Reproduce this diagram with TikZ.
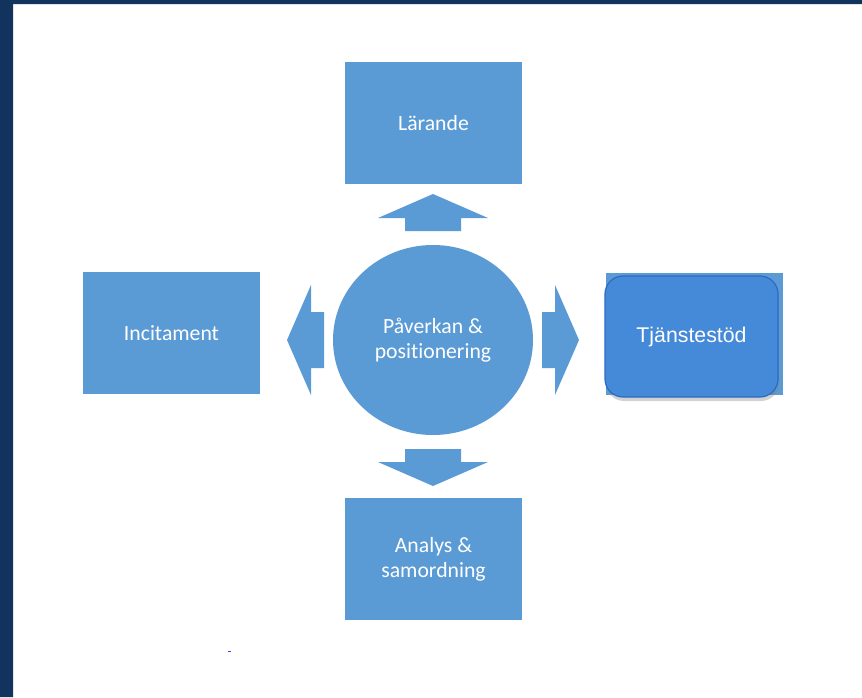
\documentclass[tikz,border=0pt]{standalone}
\usepackage{fontspec}
\setmainfont{Carlito}[Ligatures=NoCommon]
\newfontfamily\arialfont{Liberation Sans}
\usetikzlibrary{shapes.geometric, shadows}
\definecolor{frame}{HTML}{12335E}
\definecolor{boxblue}{HTML}{5B9BD5}
\definecolor{roundblue}{HTML}{448AD8}
\definecolor{roundedge}{HTML}{2E6BC0}
\tikzstyle{block} = [rectangle, minimum width=177pt, minimum height=122pt, align=center, fill=boxblue, text=white, font=\fontsize{21.7}{25}\selectfont]
\tikzstyle{hub} = [ellipse, minimum width=200pt, minimum height=190pt, inner sep=0, fill=boxblue, text=white, align=center, font=\fontsize{21.7}{25}\selectfont]
\tikzstyle{roundbox} = [rectangle, rounded corners=18pt, minimum width=173pt, minimum height=121pt, fill=roundblue, draw=roundedge, line width=1.2pt, text=white, font=\arialfont\fontsize{21.3}{25}\selectfont, drop shadow={shadow xshift=1pt, shadow yshift=-4pt, opacity=.35}]

\begin{document}
\begin{tikzpicture}[x=1pt, y=-1pt]
\useasboundingbox (0,0) rectangle (862,697);
\fill[white] (0,0) rectangle (862,697);
\fill[frame] (0,0) rectangle (13,697) (0,0) rectangle (862,4);

\node[hub] (hub) at (433,340) {P\aa verkan \&\\positionering};

\foreach \a in {0,90,180,270}{
\fill[boxblue, shift={(433,340)}, rotate=\a] (109,-28) -- (122,-28) -- (122,-55) -- (146,0) -- (122,55) -- (122,28) -- (109,28) -- cycle;
}

\node[block] (larande) at (433.5,123) {L\"arande};
\node[block] (incitament) at (171.5,333) {Incitament};
\node[block] (analys) at (433.5,559) {Analys \&\\samordning};
\node[block] (tjanst) at (694.5,333.5) {};
\node[roundbox] (tjanstround) at (691.5,336.5) {Tj\"anstest\"od};

\draw[blue!75, line width=1pt] (228,651) -- (231,651);
\end{tikzpicture}
\end{document}
